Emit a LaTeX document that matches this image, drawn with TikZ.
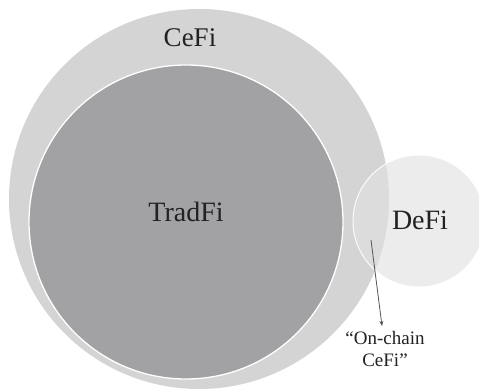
\documentclass[tikz,border=0pt]{standalone}
\usepackage{fontspec}
\setmainfont{Liberation Serif}
\usetikzlibrary{arrows.meta}
\definecolor{cefigray}{HTML}{D4D4D4}
\definecolor{tradgray}{HTML}{A2A2A4}
\definecolor{defigray}{HTML}{E1E1E1}
\definecolor{txtcol}{HTML}{222222}
\definecolor{arrowcol}{HTML}{555555}
\tikzset{
  ring/.style={circle, inner sep=0pt, outer sep=0pt},
  lbl/.style={text=txtcol, inner sep=0pt},
}
\begin{document}
\begin{tikzpicture}[x=1pt,y=-1pt]
\useasboundingbox (0,0) rectangle (479,391);
\clip (0,0) rectangle (479,391);
\fill[white] (0,0) rectangle (479,391);
\node[ring, fill=cefigray, minimum size=380pt] (cefi) at (199,199) {};
\node[ring, fill=tradgray, draw=white, line width=1.3pt, minimum size=314pt] (tradfi) at (186,222) {};
\node[ring, fill=defigray, fill opacity=0.63, draw=white, draw opacity=0.9, line width=1pt, minimum size=132pt] (defi) at (419,221) {};
\node[lbl, font=\fontsize{27}{30}\selectfont] (cefilbl) at (190,38) {CeFi};
\node[lbl, font=\fontsize{28}{31}\selectfont] (tradlbl) at (186,212) {TradFi};
\node[lbl, font=\fontsize{28}{31}\selectfont] (defilbl) at (420,220) {DeFi};
\node[lbl, font=\fontsize{19}{22}\selectfont, align=center, anchor=north] (onchain) at (385,331) {“On-chain\\CeFi”};
\coordinate (start) at (371,240);
\draw[arrowcol, line width=0.8pt, -{Stealth[length=5pt,width=4pt]}] (start) -- ([xshift=-3pt,yshift=5pt]onchain.north);
\end{tikzpicture}
\end{document}
